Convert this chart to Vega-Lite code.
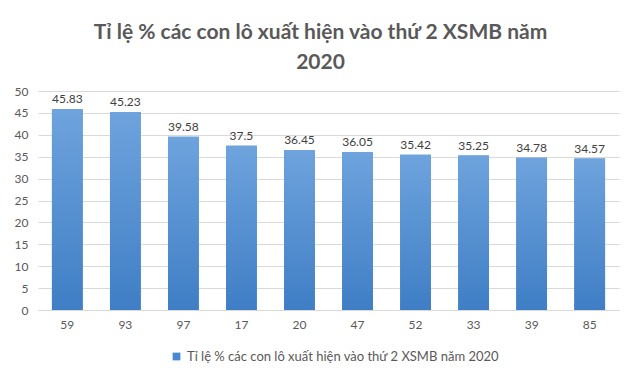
{
  "$schema": "https://vega.github.io/schema/vega-lite/v6.json",
  "width": 581,
  "height": 219,
  "autosize": "none",
  "padding": {"left": 38, "top": 91, "right": 21, "bottom": 73},
  "background": "white",
  "title": {
    "text": ["Tỉ lệ % các con lô xuất hiện vào thứ 2 XSMB năm", "2020"],
    "font": "Lato",
    "fontSize": 21,
    "fontWeight": "bold",
    "color": "#595959",
    "anchor": "middle",
    "lineHeight": 30,
    "offset": 12,
    "dx": -8
  },
  "data": {
    "values": [
      {"so": "59", "tile": 45.83, "series": "Tỉ lệ % các con lô xuất hiện vào thứ 2 XSMB năm 2020"},
      {"so": "93", "tile": 45.23, "series": "Tỉ lệ % các con lô xuất hiện vào thứ 2 XSMB năm 2020"},
      {"so": "97", "tile": 39.58, "series": "Tỉ lệ % các con lô xuất hiện vào thứ 2 XSMB năm 2020"},
      {"so": "17", "tile": 37.5, "series": "Tỉ lệ % các con lô xuất hiện vào thứ 2 XSMB năm 2020"},
      {"so": "20", "tile": 36.45, "series": "Tỉ lệ % các con lô xuất hiện vào thứ 2 XSMB năm 2020"},
      {"so": "47", "tile": 36.05, "series": "Tỉ lệ % các con lô xuất hiện vào thứ 2 XSMB năm 2020"},
      {"so": "52", "tile": 35.42, "series": "Tỉ lệ % các con lô xuất hiện vào thứ 2 XSMB năm 2020"},
      {"so": "33", "tile": 35.25, "series": "Tỉ lệ % các con lô xuất hiện vào thứ 2 XSMB năm 2020"},
      {"so": "39", "tile": 34.78, "series": "Tỉ lệ % các con lô xuất hiện vào thứ 2 XSMB năm 2020"},
      {"so": "85", "tile": 34.57, "series": "Tỉ lệ % các con lô xuất hiện vào thứ 2 XSMB năm 2020"}
    ]
  },
  "encoding": {
    "x": {
      "field": "so",
      "type": "nominal",
      "sort": null,
      "scale": {"paddingInner": 0.47, "paddingOuter": 0.24},
      "axis": {
        "title": null,
        "labelAngle": 0,
        "ticks": false,
        "domainColor": "#d9d9d9",
        "labelColor": "#595959",
        "labelFont": "Lato",
        "labelFontSize": 12,
        "labelPadding": 9
      }
    },
    "y": {
      "field": "tile",
      "type": "quantitative",
      "scale": {"domain": [0, 50]},
      "axis": {
        "title": null,
        "values": [0, 5, 10, 15, 20, 25, 30, 35, 40, 45, 50],
        "domain": false,
        "ticks": false,
        "gridColor": "#d9d9d9",
        "labelColor": "#595959",
        "labelFont": "Lato",
        "labelFontSize": 12,
        "labelPadding": 10
      }
    }
  },
  "layer": [
    {
      "mark": {"type": "bar"},
      "encoding": {
        "color": {
          "field": "series",
          "type": "nominal",
          "scale": {"range": ["#4a89cf"]},
          "legend": {
            "orient": "none",
            "legendX": 132,
            "legendY": 259,
            "title": null,
            "symbolType": "square",
            "symbolSize": 60,
            "labelFont": "Lato",
            "labelFontSize": 13,
            "labelColor": "#595959",
            "labelLimit": 0,
            "labelOffset": 4,
            "symbolStrokeWidth": 0
          }
        }
      }
    },
    {
      "mark": {
        "type": "bar",
        "fill": {
          "gradient": "linear",
          "x1": 0, "y1": 0, "x2": 0, "y2": 1,
          "stops": [
            {"offset": 0, "color": "#6ea3dd"},
            {"offset": 1, "color": "#3f7ec5"}
          ]
        }
      }
    },
    {
      "mark": {
        "type": "text",
        "dy": -10,
        "font": "Lato",
        "fontSize": 12,
        "color": "#404040"
      },
      "encoding": {"text": {"field": "tile", "type": "quantitative"}}
    }
  ],
  "config": {
    "view": {"stroke": null}
  }
}
